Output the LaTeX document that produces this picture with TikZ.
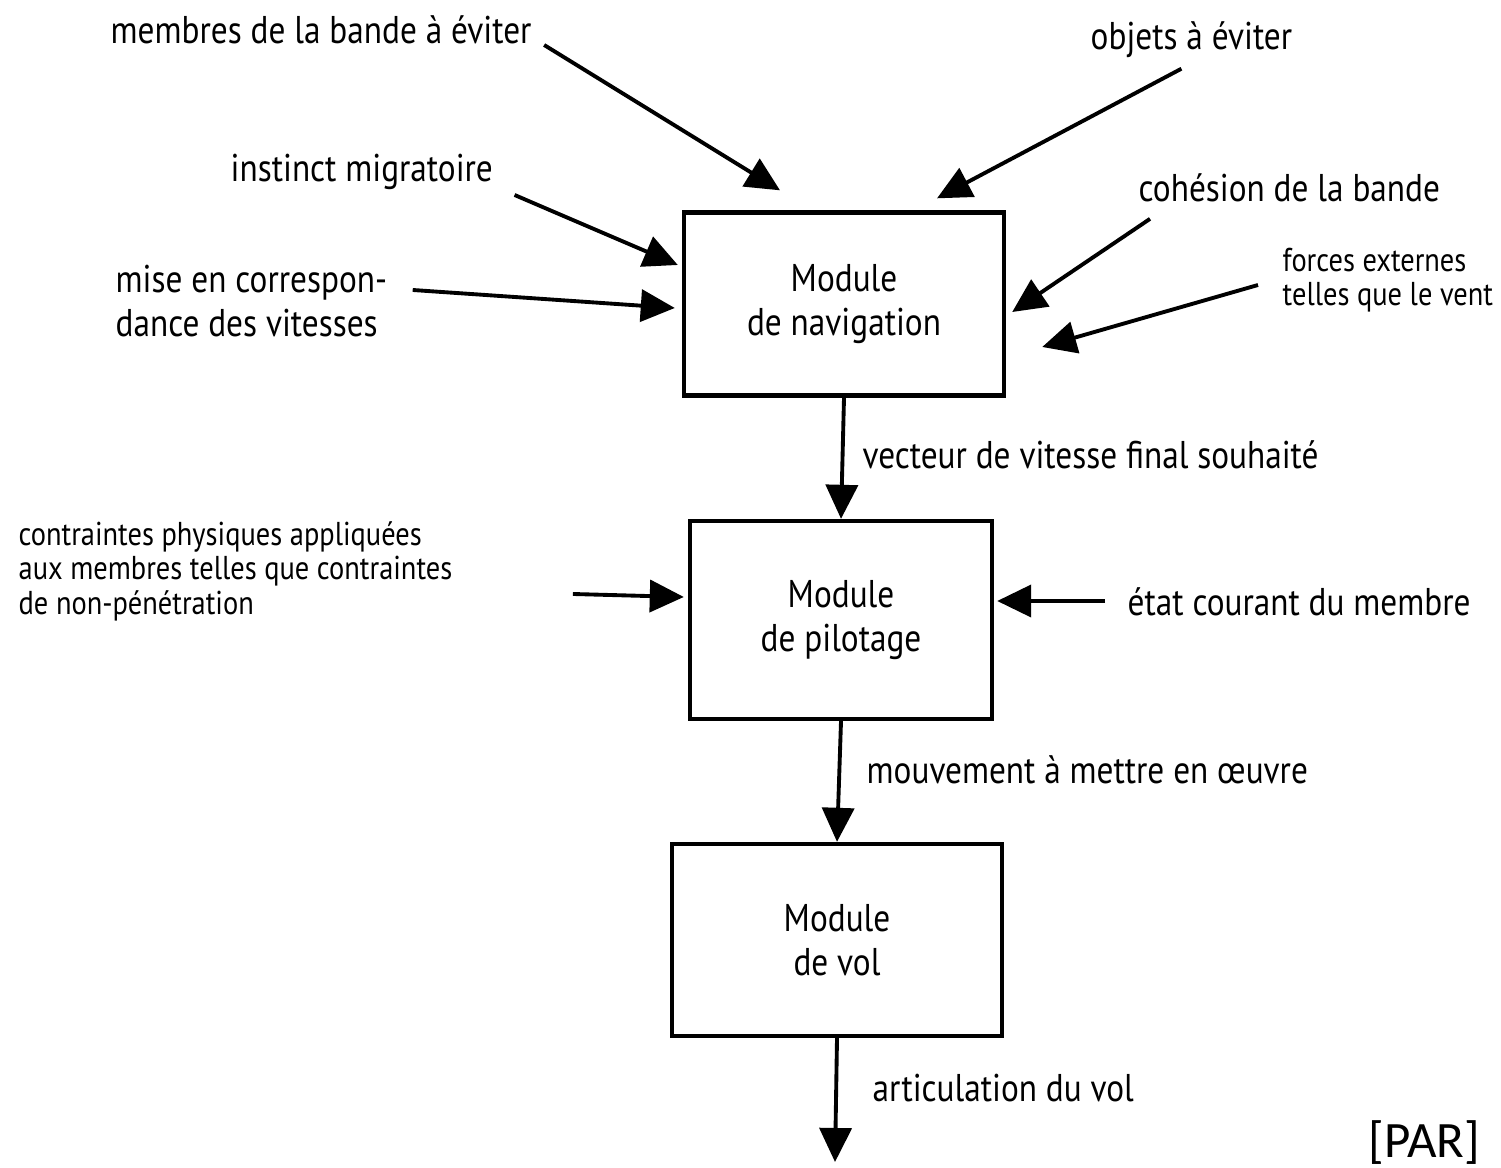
\documentclass[tikz,border=0pt]{standalone}
\usepackage{fontspec}
\setmainfont{PT Sans}[FakeStretch=0.86]
\newfontfamily\parfont{Carlito}
\usetikzlibrary{arrows.meta,positioning}

\begin{document}
\begin{tikzpicture}[x=0.01cm, y=-0.01cm, font=\fontsize{11}{12.5}\selectfont,
  module/.style={draw, rectangle, line width=1.2pt, align=center},
  flow/.style={-{Triangle[length=0.34cm,width=0.32cm]}, line width=1.1pt},
  lbl/.style={anchor=west, align=left, inner sep=0pt},
  small/.style={font=\fontsize{9.4}{9.8}\selectfont}]
\useasboundingbox (0,0) rectangle (1501,1168);

% modules
\node (nav) [module, minimum width=3.2cm, minimum height=1.83cm] at (844,304) {Module\\de navigation};
\node (pilot) [module, minimum width=3.02cm, minimum height=1.98cm] at (841,620) {Module\\de pilotage};
\node (vol) [module, minimum width=3.3cm, minimum height=1.92cm] at (837,940) {Module\\de vol};
\coordinate (out) at (835,1162);

% inputs
\node (membres) [lbl] at (110,30) {membres de la bande à éviter};
\node (objets) [lbl] at (1090,40) {objets à éviter};
\node (instinct) [lbl] at (230,172) {instinct migratoire};
\node (mise) [lbl] at (115,301) {mise en correspon-\\dance des vitesses};
\node (cohesion) [lbl] at (1138,188) {cohésion de la bande};
\node (forces) [lbl, small] at (1282,280) {forces externes\\telles que le vent};
\node (contraintes) [lbl, small] at (18,571) {contraintes physiques appliquées\\aux membres telles que contraintes\\de non-pénétration};
\node (etat) [lbl] at (1127,602) {état courant du membre};

% flow labels
\node (vecteur) [lbl] at (862,455) {vecteur de vitesse final souhaité};
\node (mouvement) [lbl] at (866,770) {mouvement à mettre en œuvre};
\node (articulation) [lbl] at (872,1088) {articulation du vol};
\node (par) [lbl, font=\parfont\fontsize{14.5}{15}\selectfont] at (1368,1143) {[PAR]};

\draw[flow] ([shift={(12,15)}]membres.east) -- ([shift={(-64,-20)}]nav.north);
\draw[flow] ([shift={(-10,10)}]objets.south) -- ([shift={(93,-12)}]nav.north);
\draw[flow] ([shift={(21,23)}]instinct.east) -- ([shift={(-4,-39)}]nav.west);
\draw[flow] ([shift={(25,-11)}]mise.east) -- ([shift={(-7,4)}]nav.west);
\draw[flow] ([shift={(12,16)}]cohesion.south west) -- ([shift={(6,8)}]nav.east);
\draw[flow] ([shift={(-24,5)}]forces.west) -- ([shift={(36,43)}]nav.east);

\draw[flow] (nav.south) -- (pilot.north);
\draw[flow] ([shift={(120,23)}]contraintes.east) -- ([shift={(-4,-23)}]pilot.west);
\draw[flow] ([shift={(-22,-1)}]etat.west) -- ([shift={(3,-19)}]pilot.east);

\draw[flow] (pilot.south) -- (vol.north);
\draw[flow] (vol.south) -- (out);
\end{tikzpicture}
\end{document}
